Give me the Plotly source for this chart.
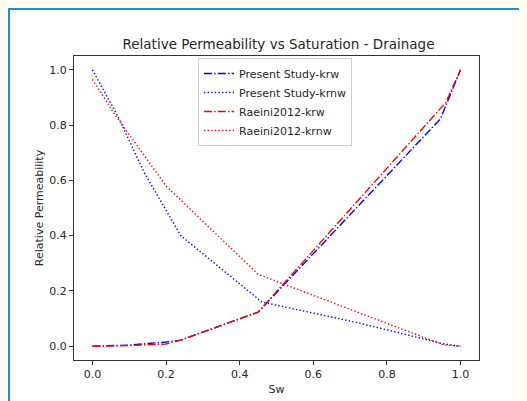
import plotly.graph_objects as go

# Present Study
ps_krw_sw = [0.0, 0.1, 0.2, 0.24, 0.45, 0.945, 1.0]
ps_krw = [0.0, 0.004, 0.015, 0.022, 0.123, 0.822, 1.0]
ps_krnw_sw = [0.0, 0.07, 0.14, 0.24, 0.46, 0.73, 0.955, 1.0]
ps_krnw = [1.0, 0.83, 0.63, 0.40, 0.16, 0.082, 0.008, 0.0]

# Raeini 2012
ra_krw_sw = [0.0, 0.1, 0.2, 0.24, 0.45, 0.96, 1.0]
ra_krw = [0.0, 0.002, 0.008, 0.022, 0.123, 0.882, 1.0]
ra_krnw_sw = [0.0, 0.06, 0.2, 0.45, 0.955, 1.0]
ra_krnw = [0.965, 0.84, 0.58, 0.26, 0.004, 0.0]

x_ticks = [0.0, 0.2, 0.4, 0.6, 0.8, 1.0]
y_ticks = [0.0, 0.2, 0.4, 0.6, 0.8, 1.0]
tick_text = ["0.0", "0.2", "0.4", "0.6", "0.8", "1.0"]

FONT = "DejaVu Sans"
DASHDOT = "8px,2.2px,1.4px,2.2px"
DOT = "1.4px,2.2px"
LW = 1.4
CREAM = "#fffcf0"

fig = go.Figure()
fig.add_trace(go.Scatter(x=ps_krw_sw, y=ps_krw, mode="lines", name="Present Study-krw",
                         line=dict(color="#0000ff", width=LW, dash=DASHDOT)))
fig.add_trace(go.Scatter(x=ps_krnw_sw, y=ps_krnw, mode="lines", name="Present Study-krnw",
                         line=dict(color="#0000ff", width=LW, dash=DOT)))
fig.add_trace(go.Scatter(x=ra_krw_sw, y=ra_krw, mode="lines", name="Raeini2012-krw",
                         line=dict(color="#ff0000", width=LW, dash=DASHDOT)))
fig.add_trace(go.Scatter(x=ra_krnw_sw, y=ra_krnw, mode="lines", name="Raeini2012-krnw",
                         line=dict(color="#ff0000", width=LW, dash=DOT)))

# page has an 8px body margin; figure coords = screen coords - 8
OFF = 8
W, H = 527 - OFF, 401 - OFF
L, R, T, B = 74 - OFF, 479 - OFF, 56 - OFF, 360 - OFF
def px(x):
    return (x - L) / (R - L)
def py(y):
    return (B - y) / (B - T)

fig.add_shape(type="rect", xref="paper", yref="paper",
              x0=px(1), x1=px(W + 20), y0=py(H + 20), y1=py(1),
              line=dict(color="#1b8fd2", width=2), fillcolor="white", layer="below")

axis_common = dict(showgrid=False, zeroline=False, showline=True, mirror=True,
                   automargin=False,
                   linecolor="#333333", linewidth=1, ticks="outside", ticklen=4,
                   tickwidth=1, tickcolor="#333333",
                   tickfont=dict(family=FONT, size=11, color="#262626"))

fig.update_layout(
    template="none",
    width=W, height=H,
    margin=dict(l=L, r=W - R, t=T, b=H - B, autoexpand=False),
    paper_bgcolor=CREAM,
    plot_bgcolor="white",
    font=dict(family=FONT, size=11, color="#262626"),
    title=dict(text="Relative Permeability vs Saturation - Drainage",
               x=px(278.5 - OFF), xref="paper", xanchor="center",
               y=1 - (44 - OFF) / H, yref="container", yanchor="middle",
               font=dict(family=FONT, size=13.5, color="#262626")),
    xaxis=dict(range=[-0.05, 1.05], tickvals=x_ticks, ticktext=tick_text,
               title=dict(text="Sw", standoff=5, font=dict(family=FONT, size=11)),
               **axis_common),
    yaxis=dict(range=[-0.05, 1.05], tickvals=y_ticks, ticktext=tick_text,
               title=dict(text="Relative Permeability", standoff=3, font=dict(family=FONT, size=11)),
               **axis_common),
    legend=dict(x=px(198 - OFF), y=py(58 - OFF), xanchor="left", yanchor="top",
                bgcolor="rgba(255,255,255,0.8)", bordercolor="#cccccc", borderwidth=1,
                font=dict(family=FONT, size=11, color="#262626"),
                tracegroupgap=0),
    showlegend=True,
)

fig.write_html("out.html", post_script="document.body.style.background='%s';" % CREAM)
